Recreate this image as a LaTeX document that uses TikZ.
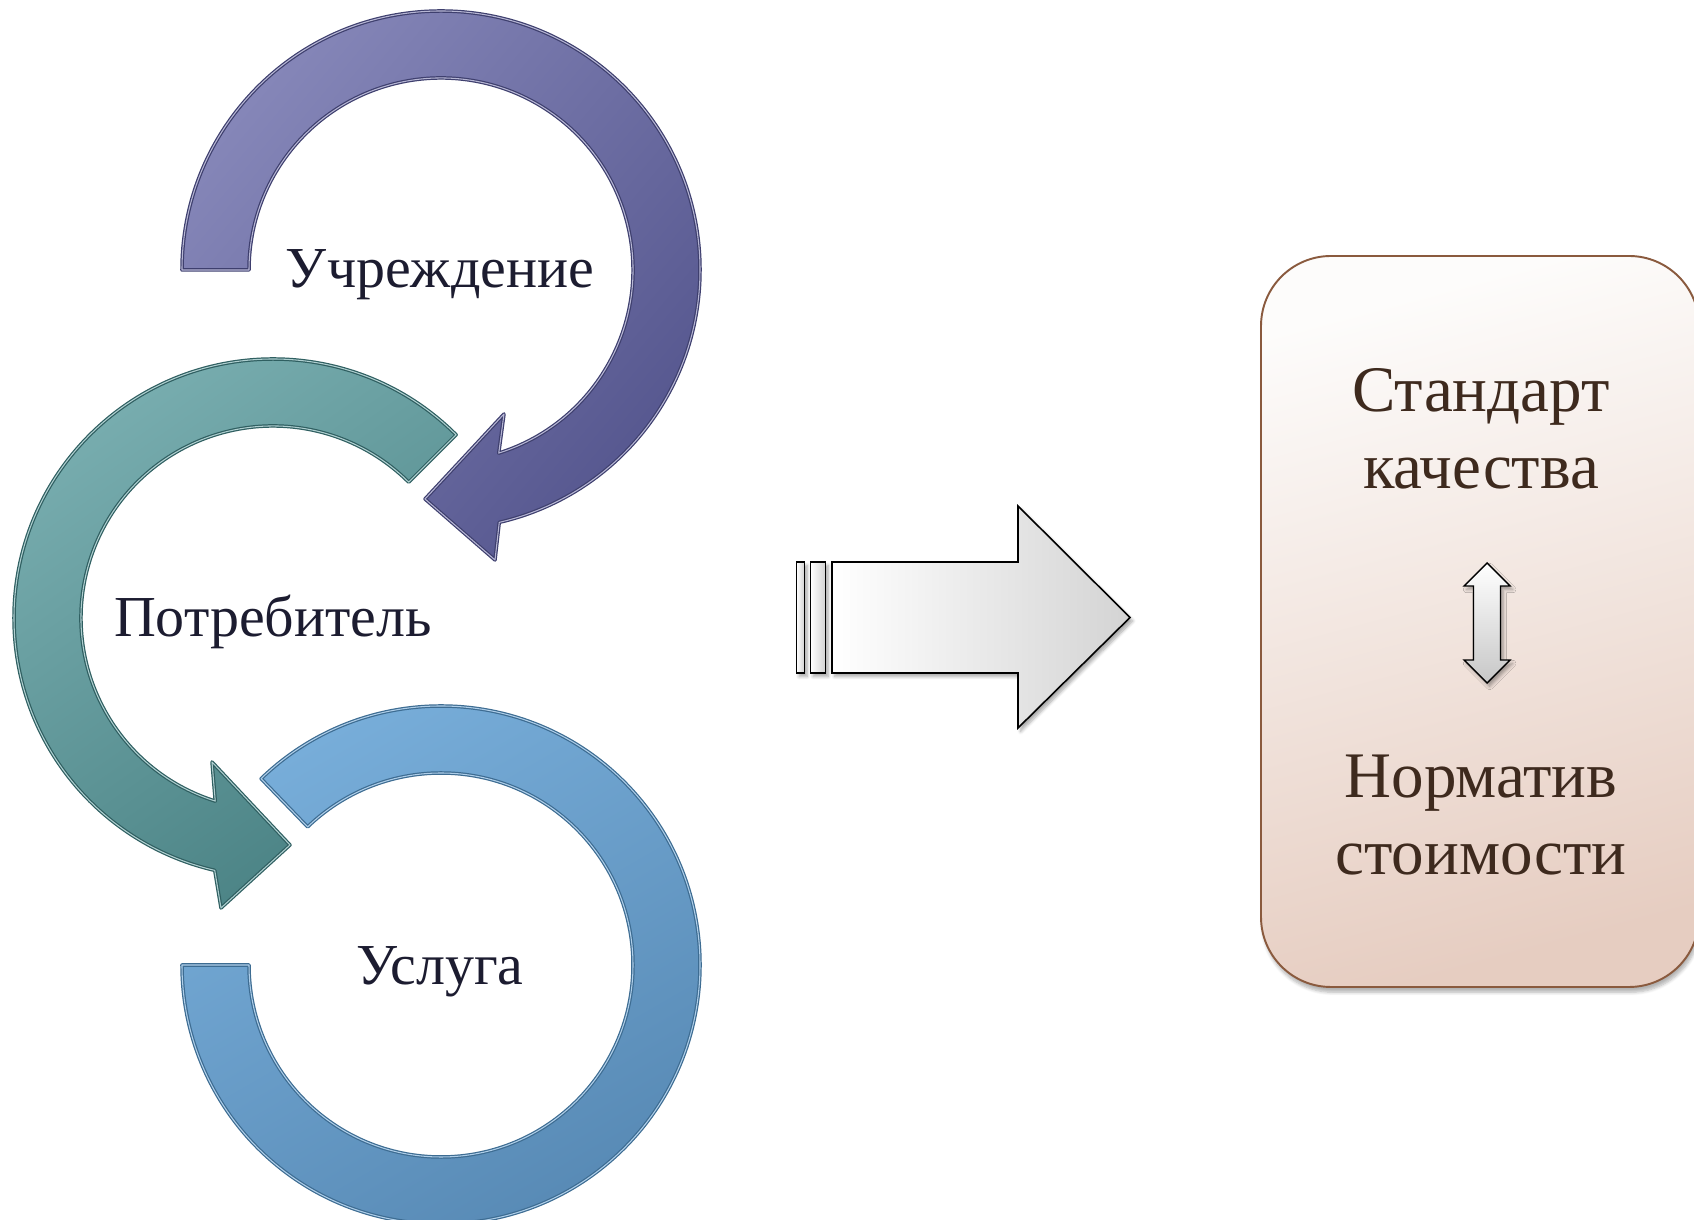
\documentclass[tikz,border=0pt]{standalone}
\usepackage{fontspec}
\setmainfont{Liberation Serif}
\usetikzlibrary{shadows,shadows.blur}

\definecolor{violtop}{HTML}{8586B8}
\definecolor{violbot}{HTML}{56578F}
\definecolor{violline}{HTML}{3E3F6E}
\definecolor{tealtop}{HTML}{7AAFB1}
\definecolor{tealbot}{HTML}{4A8284}
\definecolor{tealline}{HTML}{2F5F61}
\definecolor{skytop}{HTML}{78AEDA}
\definecolor{skybot}{HTML}{5789B4}
\definecolor{skyline}{HTML}{3D6C92}
\definecolor{boxtop}{HTML}{FDFCFB}
\definecolor{boxbot}{HTML}{E6CDC1}
\definecolor{boxline}{HTML}{8A5A3E}
\definecolor{boxtext}{HTML}{3E2A1E}
\definecolor{ringtext}{HTML}{1C1C30}

\tikzset{
  ring/.style={line width=0.7pt, double distance=0.6pt, line join=round},
  ringlabel/.style={font=\fontsize{33}{38}\selectfont, text=ringtext, anchor=base, inner sep=0pt},
  boxlabel/.style={font=\fontsize{37}{44}\selectfont, text=boxtext, align=center, inner sep=0pt},
  greyarrow/.style={draw=black, line width=0.9pt, line join=miter,
    blur shadow={shadow xshift=1.5pt, shadow yshift=-2pt, shadow blur steps=6, shadow opacity=35}}
}

\begin{document}
\begin{tikzpicture}[x=0.02cm,y=0.02cm]
		%%%%% START %%%%%
		\useasboundingbox (0,0) rectangle (1694,1220);

		% ring of the service, no head
		\begin{scope}[shift={(441,255)}]
			\draw[ring, draw=skyline, double=skytop!60!white, top color=skytop, bottom color=skybot, shading angle=30]
				(134:259) arc[start angle=134, end angle=-180, radius=259]
				-- (180:192) arc[start angle=-180, end angle=134, radius=192] -- cycle;
		\end{scope}

		% ring of the consumer, head to the right
		\begin{scope}[shift={(273,602)}]
			\draw[ring, draw=tealline, double=tealtop!60!white, top color=tealtop, bottom color=tealbot, shading angle=35]
				(45:259) arc[start angle=45, end angle=257, radius=259]
				-- (-52,-290) -- (17,-227) -- (-61,-144)
				-- (252.5:192) arc[start angle=252.5, end angle=45, radius=192] -- cycle;
		\end{scope}

		% ring of the institution, head to the left
		\begin{scope}[shift={(441,950)}]
			\draw[ring, draw=violline, double=violtop!60!white, top color=violtop, bottom color=violbot, shading angle=50]
				(180:259) arc[start angle=180, end angle=-77, radius=259]
				-- (54,-290) -- (-16,-229) -- (63,-144)
				-- (-72.5:192) arc[start angle=-72.5, end angle=180, radius=192] -- cycle;
		\end{scope}

		\node[ringlabel] (inst) at (440,932) {Учреждение};
		\node[ringlabel] (cons) at (273,583) {Потребитель};
		\node[ringlabel] (serv) at (440,235) {Услуга};

		% big arrow with two strips
		\draw[greyarrow, left color=white, right color=black!18] (796.5,547) rectangle (804.5,658);
		\draw[greyarrow, left color=white, right color=black!18] (810.5,547) rectangle (825.5,658);
		\draw[greyarrow, left color=white, right color=black!17]
			(832,547) -- (1018,547) -- (1018,492) -- (1130,602.5)
			-- (1018,714) -- (1018,658) -- (832,658) -- cycle;

		% box on the right
		\draw[line width=1.1pt, draw=boxline, rounded corners=1.4cm,
			top color=boxtop, bottom color=boxbot, shading angle=15,
			blur shadow={shadow xshift=1pt, shadow yshift=-3pt, shadow blur steps=6, shadow opacity=30}]
			(1261,233) rectangle (1699,964);

		\node[boxlabel] (qual) at (1481,791) {Стандарт\\качества};
		\node[boxlabel] (cost) at (1481,405) {Норматив\\стоимости};

		% double arrow between the two
		\draw[greyarrow, top color=white, bottom color=black!22, line width=0.8pt]
			(1487,657) -- (1510,634) -- (1500.5,634) -- (1500.5,560) -- (1510,560)
			-- (1487,537) -- (1464,560) -- (1473.5,560) -- (1473.5,634) -- (1464,634) -- cycle;

		%%%%% END %%%%%
	\end{tikzpicture}
\end{document}
